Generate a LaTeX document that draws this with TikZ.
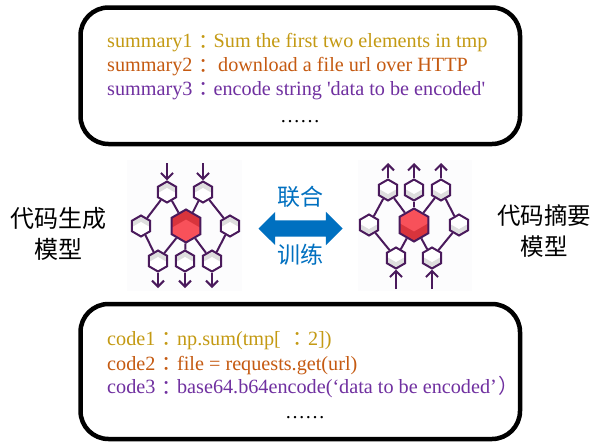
\documentclass[tikz,border=0pt]{standalone}
\usepackage{fontspec}
\usetikzlibrary{shapes.geometric,shapes.arrows,arrows.meta,calc}
\newfontfamily\tms{Liberation Serif}
\newfontfamily\cjk{Noto Sans CJK SC}
\newfontfamily\cjktc{Noto Sans CJK TC}
\definecolor{cA}{HTML}{C49A13}
\definecolor{cB}{HTML}{C55A11}
\definecolor{cC}{HTML}{7030A0}
\definecolor{blueA}{HTML}{0070C0}
\definecolor{netc}{HTML}{4A1A5C}
\definecolor{redL}{HTML}{F8515A}
\definecolor{redD}{HTML}{D8343C}
\definecolor{grayS}{HTML}{DEDEDE}
\definecolor{panelbg}{HTML}{FCFCFD}
\newcommand{\cln}{\raisebox{-1.5pt}{\cjktc ：}}
\tikzset{
  x=1pt,y=-1pt,
  box/.style={draw=black,line width=4.5pt,rounded corners=28pt,fill=white},
  panel/.style={fill=panelbg,draw=none},
  txt/.style={anchor=base west,inner sep=0pt,font=\tms\fontsize{20.2}{24}\selectfont},
  dots/.style={anchor=center,inner sep=0pt,font=\tms\fontsize{20}{24}\selectfont},
  cn/.style={anchor=center,inner sep=0pt,align=center,font=\cjk\fontsize{23.5}{31}\selectfont},
  cnl/.style={cn,font=\cjk\fontsize{24}{31}\selectfont},
  cnb/.style={anchor=center,inner sep=0pt,text=blueA,font=\cjk\fontsize{23}{26}\selectfont},
  hexbase/.style={regular polygon,regular polygon sides=6,shape border rotate=30,inner sep=0pt,draw=netc,line width=2pt,fill=white},
  topdark/.style={path picture={\fill[#1]
     (path picture bounding box.north west) -- (path picture bounding box.north east)
     -- ($(path picture bounding box.north east)!0.55!(path picture bounding box.south east)$)
     -- ($(path picture bounding box.north)!0.3!(path picture bounding box.south)$)
     -- ($(path picture bounding box.north west)!0.55!(path picture bounding box.south west)$) -- cycle;}},
  botdark/.style={path picture={\fill[#1]
     (path picture bounding box.south west) -- (path picture bounding box.south east)
     -- ($(path picture bounding box.north east)!0.45!(path picture bounding box.south east)$)
     -- ($(path picture bounding box.north)!0.7!(path picture bounding box.south)$)
     -- ($(path picture bounding box.north west)!0.45!(path picture bounding box.south west)$) -- cycle;}},
  hexsA/.style={hexbase,minimum size=21pt,topdark=grayS},
  hexsB/.style={hexbase,minimum size=21pt,botdark=grayS},
  hexcA/.style={hexbase,minimum size=33pt,fill=redL,topdark=redD},
  hexcB/.style={hexbase,minimum size=33pt,fill=redL,botdark=redD},
  lnk/.style={draw=netc,line width=2pt},
  arr/.style={draw=netc,line width=2pt,-{Straight Barb[length=6pt,width=12pt,line width=2pt]}},
  bigarrow/.style={shape=double arrow,fill=blueA,draw=none,inner sep=0pt,minimum height=84pt,double arrow head extend=8.5pt,double arrow tip angle=90}
}
\begin{document}
\begin{tikzpicture}
\useasboundingbox (0,0) rectangle (591,442);
\fill[white] (0,0) rectangle (591,442);
% frames
\draw[box] (80.5,7.5) rectangle (520,144);
\draw[box] (80.5,304) rectangle (520,439);
% summaries
\node[txt,text=cA] (s1) at (107,47.5) {summary1\kern1pt\cln\kern0pt Sum the first two elements in tmp};
\node[txt,text=cB] (s2) at (107,71.5) {summary2\kern1pt\cln\kern4.5pt download a file url over HTTP};
\node[txt,text=cC] (s3) at (107,95) {summary3\kern1pt\cln\kern0pt encode string 'data to be encoded'};
\node[dots] (s4) at (300,122) {……};
% codes
\node[txt,text=cA] (c1) at (107,345) {code1\kern1.5pt\cln\kern0pt np.sum(tmp[\kern7pt\cln\kern0pt 2])};
\node[txt,text=cB] (c2) at (107,370) {code2\kern1.5pt\cln\kern0pt file = requests.get(url)};
\node[txt,text=cC] (c3) at (107,393.5) {code3\kern1.5pt\cln\kern0pt base64.b64encode(‘data to be encoded’\kern2pt{\cjktc ）}};
\node[dots] (c4) at (305,418) {……};
% side labels
\node[cnl] (lab1) at (58,233.5) {代码生成\\模型};
\node[cn] (lab2) at (544,230.5) {代码摘要\\模型};
% centre
\node[cnb] (joint) at (300,197) {联合};
\node[cnb] (train) at (300,254.5) {训练};
\node[bigarrow] (both) at (300.5,228.5) {\rule{0pt}{16pt}};
% left network
\fill[panel] (127,160) rectangle (242,291);
\node[hexsA] (a1) at (167,192) {};
\node[hexsA] (a2) at (203,192) {};
\node[hexsA] (a3) at (141,226) {};
\node[hexsA] (a4) at (230,226) {};
\node[hexcA] (a0) at (186,226) {};
\node[hexsA] (a5) at (158,261) {};
\node[hexsA] (a6) at (185,261) {};
\node[hexsA] (a7) at (212,261) {};
\coordinate (ai1) at (167,163);
\coordinate (ai2) at (203,163);
\coordinate (ao1) at (158,288);
\coordinate (ao2) at (185,288);
\coordinate (ao3) at (212,288);
\foreach \p/\q in {a1/a3,a1/a0,a2/a0,a2/a4,a3/a5,a4/a7,a0/a5,a0/a6,a0/a7}{\draw[lnk] (\p) -- (\q);}
\draw[arr] (ai1) -- (a1);
\draw[arr] (ai2) -- (a2);
\draw[arr] (a5) -- (ao1);
\draw[arr] (a6) -- (ao2);
\draw[arr] (a7) -- (ao3);
% right network
\fill[panel] (358,160) rectangle (472,291);
\node[hexsB] (b1) at (388,190) {};
\node[hexsB] (b2) at (414,190) {};
\node[hexsB] (b3) at (441,190) {};
\node[hexsB] (b4) at (369,225) {};
\node[hexsB] (b5) at (459,225) {};
\node[hexcB] (b0) at (414,225) {};
\node[hexsB] (b6) at (396,258) {};
\node[hexsB] (b7) at (432,258) {};
\coordinate (bo1) at (388,163);
\coordinate (bo2) at (414,163);
\coordinate (bo3) at (441,163);
\coordinate (bi1) at (396,289);
\coordinate (bi2) at (432,289);
\foreach \p/\q in {b1/b4,b1/b0,b2/b0,b3/b0,b3/b5,b4/b6,b5/b7,b0/b6,b0/b7}{\draw[lnk] (\p) -- (\q);}
\draw[arr] (b1) -- (bo1);
\draw[arr] (b2) -- (bo2);
\draw[arr] (b3) -- (bo3);
\draw[arr] (bi1) -- (b6);
\draw[arr] (bi2) -- (b7);
\end{tikzpicture}
\end{document}
